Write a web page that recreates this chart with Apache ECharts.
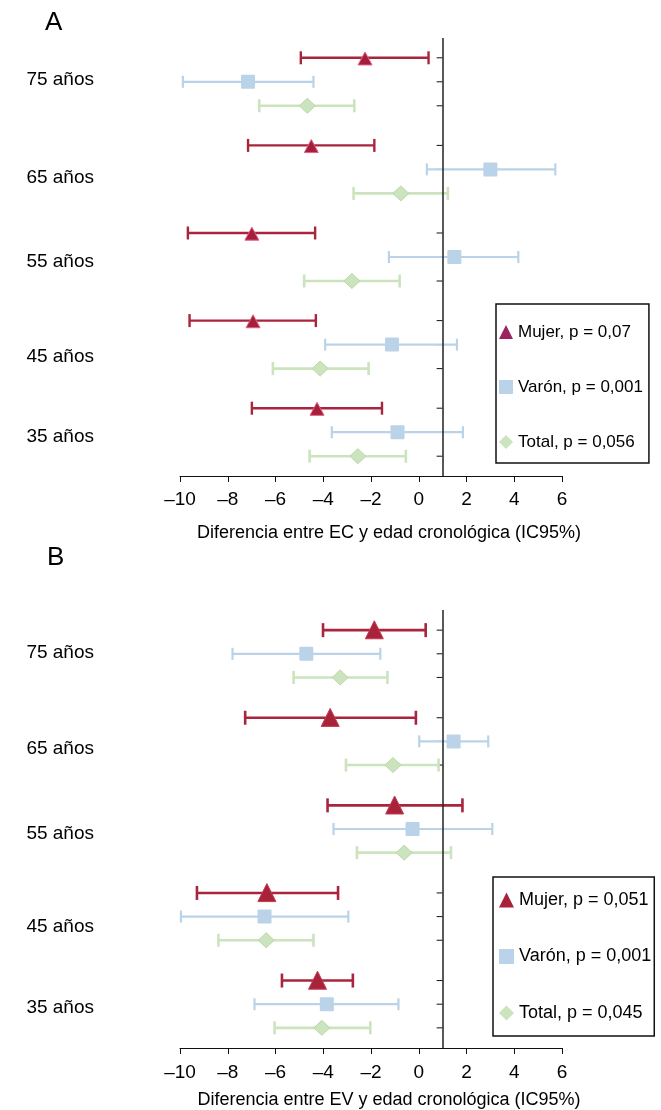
<!DOCTYPE html>
<html>
<head>
<meta charset="utf-8">
<script src="https://cdn.jsdelivr.net/npm/echarts@6/dist/echarts.min.js"></script>
<style>
html,body{margin:0;padding:0;background:#fff;}
#chart{width:661px;height:1110px;}
</style>
</head>
<body>
<div id="chart"></div>
<script>
// Categories (top to bottom)
var ageGroups = ['75 años', '65 años', '55 años', '45 años', '35 años'];
var xTicks = [-10, -8, -6, -4, -2, 0, 2, 4, 6];

// Panel A: Diferencia entre EC y edad cronológica
var mujerA_mid = [-2.25, -4.50, -6.99, -6.94, -4.26];
var mujerA_lo  = [-4.94, -7.15, -9.67, -9.60, -6.99];
var mujerA_hi  = [0.41, -1.86, -4.34, -4.31, -1.54];
var varonA_mid = [-7.15, 3.00, 1.49, -1.12, -0.89];
var varonA_lo  = [-9.88, 0.34, -1.25, -3.92, -3.64];
var varonA_hi  = [-4.41, 5.72, 4.17, 1.60, 1.85];
var totalA_mid = [-4.67, -0.75, -2.80, -4.13, -2.55];
var totalA_lo  = [-6.68, -2.73, -4.80, -6.11, -4.57];
var totalA_hi  = [-2.70, 1.22, -0.80, -2.10, -0.54];

// Panel B: Diferencia entre EV y edad cronológica
var mujerB_mid = [-1.86, -3.71, -1.01, -6.36, -4.24];
var mujerB_lo  = [-4.01, -7.27, -3.82, -9.29, -5.73];
var mujerB_hi  = [0.29, -0.12, 1.83, -3.38, -2.76];
var varonB_mid = [-4.71, 1.46, -0.26, -6.46, -3.85];
var varonB_lo  = [-7.80, 0.02, -3.57, -9.96, -6.88];
var varonB_hi  = [-1.61, 2.91, 3.08, -2.95, -0.85];
var totalB_mid = [-3.29, -1.08, -0.61, -6.39, -4.06];
var totalB_lo  = [-5.24, -3.05, -2.59, -8.39, -6.04];
var totalB_hi  = [-1.31, 0.83, 1.35, -4.41, -2.03];

var refX = 1; // vertical reference line position

var namesA = ['Mujer, p = 0,07', 'Varón, p = 0,001', 'Total, p = 0,056'];
var namesB = ['Mujer, p = 0,051', 'Varón, p = 0,001', 'Total, p = 0,045'];

// label vertical nudges (style, px) per age group label
var labelNudgeA = [-2, 8, 5, 12, 5];
var labelNudgeB = [-1, 7, 5, 10, 4];

var FONT = 'Liberation Sans, Arial, Helvetica, sans-serif';
var RED = '#a8253d', BLUE = '#bad3e8', GREEN = '#cbe4be';

function buildData(lo, mid, hi) {
  return ageGroups.map(function (g, i) { return [i, lo[i], mid[i], hi[i]]; });
}

function makeRender(cfg) {
  return function (params, api) {
    var yi = api.value(0);
    var c = api.coord([api.value(2), yi]);
    var band = api.size([0, 1])[1];
    var y = c[1] + cfg.offset * band;
    var xl = api.coord([api.value(1), yi])[0];
    var xh = api.coord([api.value(3), yi])[0];
    var xr = api.coord([refX, yi])[0];
    var cx = c[0];
    var ch = cfg.cap / 2;
    var children = [
      {type: 'line', shape: {x1: xr - 6, y1: y, x2: xr, y2: y}, style: {stroke: '#111', lineWidth: 1}},
      {type: 'line', shape: {x1: xl, y1: y, x2: xh, y2: y}, style: {stroke: cfg.lineColor, lineWidth: cfg.lw}},
      {type: 'line', shape: {x1: xl, y1: y - ch, x2: xl, y2: y + ch}, style: {stroke: cfg.lineColor, lineWidth: cfg.lw}},
      {type: 'line', shape: {x1: xh, y1: y - ch, x2: xh, y2: y + ch}, style: {stroke: cfg.lineColor, lineWidth: cfg.lw}}
    ];
    var w = cfg.w, h = cfg.h;
    if (cfg.shape === 'triangle') {
      children.push({type: 'polygon', shape: {points: [[cx, y - h * cfg.apex], [cx - w / 2, y + h * (1 - cfg.apex)], [cx + w / 2, y + h * (1 - cfg.apex)]]},
        style: {fill: cfg.fill, stroke: cfg.stroke, lineWidth: 1}});
    } else if (cfg.shape === 'rect') {
      children.push({type: 'rect', shape: {x: cx - w / 2, y: y - h / 2, width: w, height: h, r: 1},
        style: {fill: cfg.fill}});
    } else {
      children.push({type: 'polygon', shape: {points: [[cx, y - h / 2], [cx + w / 2, y], [cx, y + h / 2], [cx - w / 2, y]]},
        style: {fill: cfg.fill, stroke: cfg.stroke, lineWidth: 1}});
    }
    return {type: 'group', children: children};
  };
}

function errSeries(name, idx, data, cfg, color) {
  return {
    type: 'custom', name: name, xAxisIndex: idx, yAxisIndex: idx, z: 3,
    itemStyle: {color: color},
    encode: {x: [1, 2, 3], y: 0},
    renderItem: makeRender(cfg),
    data: data, clip: false, silent: true
  };
}

function refLine(idx) {
  return {
    type: 'line', xAxisIndex: idx, yAxisIndex: idx, data: [], z: 1, silent: true,
    markLine: {silent: true, symbol: ['none', 'none'], label: {show: false},
      lineStyle: {color: '#222', width: 1.5, type: 'solid'}, data: [{xAxis: refX}], animation: false}
  };
}

function xAxisCfg(idx, name, margin, gap) {
  return {
    type: 'value', gridIndex: idx, min: xTicks[0], max: xTicks[xTicks.length - 1], interval: 2,
    axisLine: {show: true, onZero: false, lineStyle: {color: '#111', width: 1}},
    axisTick: {show: true, length: 6, inside: false, lineStyle: {color: '#111', width: 1}},
    splitLine: {show: false},
    axisLabel: {fontSize: 19, color: '#000', fontFamily: FONT, margin: margin,
      formatter: function (v) { return v < 0 ? '\u2013' + (-v) : String(v); }},
    name: name, nameLocation: 'middle', nameGap: gap,
    nameTextStyle: {fontSize: 18, color: '#000', fontFamily: FONT, padding: [0, 0, 0, 36]}
  };
}

function yAxisCfg(idx, nudges) {
  var rich = {};
  nudges.forEach(function (d, i) {
    rich['l' + i] = {fontSize: 19, color: '#000', fontFamily: FONT,
      padding: d >= 0 ? [2 * d, 0, 0, 0] : [0, 0, -2 * d, 0]};
  });
  return {
    type: 'category', gridIndex: idx, data: ageGroups, inverse: true,
    axisLine: {show: false}, axisTick: {show: false}, splitLine: {show: false},
    axisLabel: {fontSize: 19, color: '#000', fontFamily: FONT, margin: 86,
      formatter: function (v, i) { return '{l' + i + '|' + v + '}'; }, rich: rich}
  };
}

var cfgMujerA = {offset: -0.274, shape: 'triangle', w: 14, h: 13, apex: 0.45, fill: '#a51e3c', stroke: '#e0607e', lineColor: RED, lw: 2.4, cap: 13};
var cfgVaronA = {offset: 0, shape: 'rect', w: 14, h: 14, fill: '#bad3e8', lineColor: BLUE, lw: 2.2, cap: 12};
var cfgTotalA = {offset: 0.274, shape: 'diamond', w: 16, h: 15, fill: '#cbe4bd', stroke: '#bcd8aa', lineColor: GREEN, lw: 2.6, cap: 13};
var cfgMujerB = {offset: -0.27, shape: 'triangle', w: 18, h: 18, apex: 0.52, fill: '#a8233a', stroke: '#c23a52', lineColor: RED, lw: 2.6, cap: 14};
var cfgVaronB = {offset: 0, shape: 'rect', w: 14, h: 14, fill: '#bad3e8', lineColor: BLUE, lw: 2.2, cap: 12};
var cfgTotalB = {offset: 0.27, shape: 'diamond', w: 16, h: 15, fill: '#cbe4bd', stroke: '#bcd8aa', lineColor: GREEN, lw: 2.6, cap: 13};

var chart = echarts.init(document.getElementById('chart'), null, {renderer: 'canvas'});
chart.setOption({
  animation: false,
  backgroundColor: '#fff',
  textStyle: {fontFamily: FONT},
  graphic: [
    {type: 'text', left: 45, top: 10, style: {text: 'A', font: '26px ' + FONT, fill: '#000'}},
    {type: 'text', left: 47, top: 545, style: {text: 'B', font: '26px ' + FONT, fill: '#000'}}
  ],
  grid: [
    {left: 180, top: 38, width: 382, height: 438, containLabel: false},
    {left: 180, top: 610, width: 382, height: 439, containLabel: false}
  ],
  xAxis: [
    xAxisCfg(0, 'Diferencia entre EC y edad cronológica (IC95%)', 14, 48),
    xAxisCfg(1, 'Diferencia entre EV y edad cronológica (IC95%)', 15, 43)
  ],
  yAxis: [yAxisCfg(0, labelNudgeA), yAxisCfg(1, labelNudgeB)],
  legend: [
    {
      orient: 'vertical', left: 496, top: 304, selectedMode: false,
      borderColor: '#111', borderWidth: 1.5, padding: [18, 6, 11, 3],
      itemWidth: 14, itemHeight: 14, itemGap: 35, itemTextGap: 8,
      textStyle: {fontSize: 17, color: '#000', fontFamily: FONT, lineHeight: 20},
      data: [
        {name: namesA[0], icon: 'triangle', itemStyle: {color: '#9b2362'}},
        {name: namesA[1], icon: 'rect', itemStyle: {color: '#bad3e8'}},
        {name: namesA[2], icon: 'diamond', itemStyle: {color: '#cbe4bd'}}
      ]
    },
    {
      orient: 'vertical', left: 493, top: 877, selectedMode: false,
      borderColor: '#111', borderWidth: 1.5, padding: [13, 3, 13, 6],
      itemWidth: 15, itemHeight: 15, itemGap: 36.5, itemTextGap: 2,
      textStyle: {fontSize: 18, color: '#000', fontFamily: FONT, lineHeight: 20},
      data: [
        {name: namesB[0], icon: 'triangle', itemStyle: {color: '#a8233a'}},
        {name: namesB[1], icon: 'rect', itemStyle: {color: '#bad3e8'}},
        {name: namesB[2], icon: 'diamond', itemStyle: {color: '#cbe4bd'}}
      ]
    }
  ],
  series: [
    refLine(0),
    refLine(1),
    errSeries(namesA[1], 0, buildData(varonA_lo, varonA_mid, varonA_hi), cfgVaronA, '#bad3e8'),
    errSeries(namesA[2], 0, buildData(totalA_lo, totalA_mid, totalA_hi), cfgTotalA, '#cbe4bd'),
    errSeries(namesA[0], 0, buildData(mujerA_lo, mujerA_mid, mujerA_hi), cfgMujerA, '#9b2362'),
    errSeries(namesB[1], 1, buildData(varonB_lo, varonB_mid, varonB_hi), cfgVaronB, '#bad3e8'),
    errSeries(namesB[2], 1, buildData(totalB_lo, totalB_mid, totalB_hi), cfgTotalB, '#cbe4bd'),
    errSeries(namesB[0], 1, buildData(mujerB_lo, mujerB_mid, mujerB_hi), cfgMujerB, '#a8233a')
  ]
});
</script>
</body>
</html>
